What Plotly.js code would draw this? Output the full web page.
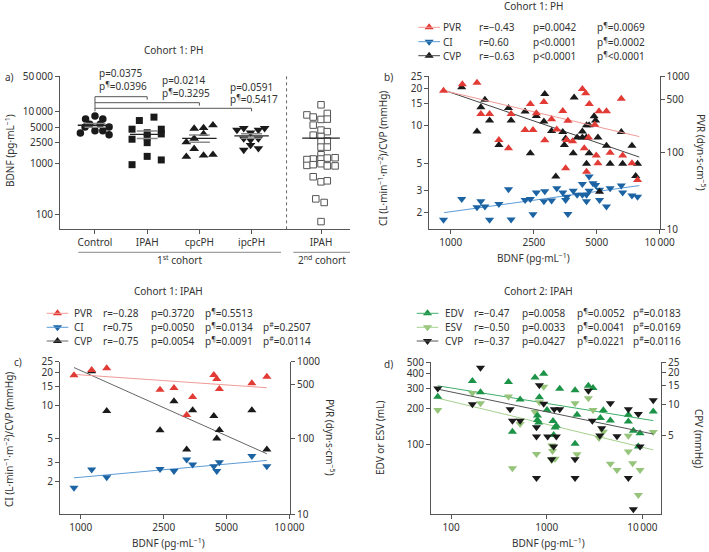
<!DOCTYPE html>
<html><head><meta charset="utf-8">
<script src="https://cdn.plot.ly/plotly-3.0.1.min.js"></script>
<style>html,body{margin:0;padding:0;background:#fff}#chart{width:709px;height:552px}</style>
</head><body><div id="chart"></div>
<script>
// ---------- Panel a data ----------
const aGroups = ['Control','IPAH','cpcPH','ipcPH','IPAH'];
const aGroupPos = [1,2,3,4,5.33];
const aControl = [8240,7200,7200,5750,5750,5030,5030,4260,4260,3840,3570];
const aControlJit = [0,-0.18,0.15,-0.1,0.1,-0.19,0.27,0,0.15,-0.28,0.27];
const aIPAH = [7870,6760,4580,4580,3700,2920,3900,3200,2500,1350,1150,930];
const aIPAHJit = [0.13,-0.15,-0.29,0.27,0.27,-0.29,0,0,0,0,0.27,-0.29];
const aCpc = [5480,4850,4710,3700,3000,2560,1900,1455,1410,1330];
const aCpcJit = [0.26,0.08,-0.1,0.08,-0.1,-0.25,-0.1,0.26,0.08,-0.25];
const aIpc = [4440,4790,3930,4440,4790,3000,2830,3000,1800,2250,1940];
const aIpcJit = [-0.28,-0.15,-0.02,0.13,0.25,-0.15,-0.02,0.13,-0.15,-0.02,0.13];
const aCohort2 = [13700,8700,7900,9300,7100,7200,5500,4400,4100,3500,3300,2700,2600,2050,2050,1450,1200,1170,1200,1250,1270,900,930,970,880,880,540,430,450,200,170,72];
const aCohort2Jit = [0,-0.27,-0.15,0.12,0,0.12,-0.15,0,0.12,-0.15,0,0.12,0,0,0.12,0,-0.15,-0.27,0,0.12,0.27,-0.27,-0.15,0,0.12,0.27,-0.15,0,0.12,-0.1,0.06,0];
const aPvals = [['p=0.0375','p<sup>¶</sup>=0.0396'],['p=0.0214','p<sup>¶</sup>=0.3295'],['p=0.0591','p<sup>¶</sup>=0.5417']];

// ---------- Panel b data (Cohort 1: PH) ----------
const bPVR_BDNF = [923,1136,1335,1393,1534,1700,1890,1945,2270,2405,2477,2570,2793,2820,3040,3220,3440,3550,3590,3640,3835,4270,4430,4610,4470,4360,4570,4900,4980,5070,5130,5570,5800,6560,6660,7380,7850];
const bPVR = [644,778,819,319,319,146,114,319,198,431,198,326,458,145,272,201,349,62.5,146,261,141,676,594,431,56.5,114,158,232,92,73,346,346,100,506,92,73,44];
const bCVP_BDNF = [923,1128,1335,1393,1457,1534,1700,1890,1945,2270,2405,2570,2793,2820,3040,3185,3440,3500,3550,3860,3900,4030,4270,4270,4460,4470,4600,4470,4600,4860,4940,5070,5160,5570,5800,6560,6660,7380,7690,7850];
const bCVP = [25.3,20.4,9.0,14.1,16.2,11.0,7.0,13.9,11.0,13.0,6.0,12.0,10.8,18.0,9.06,3.9,8.9,7.0,7.9,6.0,16.9,8.05,9.0,8.05,8.05,10.1,10.1,4.94,6.0,11.9,11.0,8.05,2.94,6.9,4.94,8.9,4.94,6.9,3.95,4.94];
const bCI_BDNF = [923,1128,1335,1393,1457,1534,1700,1890,1945,2270,2405,2477,2570,2793,2820,3040,3220,3440,3550,3590,3640,3860,4030,4270,4270,4470,4470,4600,4600,4800,4940,5160,5160,5570,5800,6560,6660,7380,7850];
const bCI = [1.75,2.58,2.21,2.47,2.24,1.75,2.35,3.08,1.76,2.53,2.58,1.94,2.9,2.47,2.97,2.5,3.14,2.9,2.53,2.69,1.95,3.0,2.78,3.4,2.78,2.47,2.78,3.9,3.0,3.45,3.34,3.05,2.53,2.24,3.14,3.3,2.9,2.75,2.69];
const bFitX = [929,8000];
const bFitPVR = [643,162];
const bFitCI = [2.0,3.3];
const bFitCVP = [19.3,5.6];
const bLegend = [
  ['PVR','r=−0.43','p=0.0042','p<sup>¶</sup>=0.0069'],
  ['CI','r=0.60','p&lt;0.0001','p<sup>¶</sup>=0.0002'],
  ['CVP','r=−0.63','p&lt;0.0001','p<sup>¶</sup>&lt;0.0001']
];

// ---------- Panel c data (Cohort 1: IPAH) ----------
const cBDNF = [929,1129,1333,2400,2800,3220,3440,4345,4490,4620,6610,7800];
const cPVR = [662,778,818,430,452,200,344,668,593,438,520,637];
const cCI = [1.75,2.58,2.19,2.61,2.49,3.18,2.86,2.76,2.49,3.01,3.42,2.76];
const cCVP = [25.2,20.5,8.87,5.89,10.9,3.94,9.0,7.98,4.97,5.93,9.0,3.94];
const cFitX = [929,7800];
const cFitPVR = [682,456];
const cFitCI = [2.16,3.12];
const cFitCVP = [22.2,3.59];
const cLegend = [
  ['PVR','r=−0.28','p=0.3720','p<sup>¶</sup>=0.5513',''],
  ['CI','r=0.75','p=0.0050','p<sup>¶</sup>=0.0134','p<sup>#</sup>=0.2507'],
  ['CVP','r=−0.75','p=0.0054','p<sup>¶</sup>=0.0091','p<sup>#</sup>=0.0114']
];

// ---------- Panel d data (Cohort 2: IPAH) ----------
const dEDV_BDNF = [72.6,167,203,398,438,527,755,838,930,800,800,825,1007,1164,1182,1222,1260,1367,1978,1978,2075,2727,3050,3640,3910,4630,7140,7140,8050,9460,9080,13000];
const dEDV = [254,347,277,339,128,241,371,252,399,176,161,153,196,158,120,139,144,297,101,289,178,316,302,167,195,159,178,156,130,124,95.5,190];
const dESV_BDNF = [72.6,167,203,398,438,527,755,782,838,930,1130,1150,1127,1222,1978,2075,2727,3050,3910,3520,4630,5430,7140,7140,7920,9080,9460,13000];
const dESV = [196,273,224,255,62.4,149,188,82.6,228,309,97.5,87.7,73.5,75,224,82.3,247,196,128,113,68,60.4,118,86.5,68.9,36.9,60.4,127];
const dCVP_BDNF = [72.6,167,203,414,438,527,782,782,782,838,930,1023,1127,1182,1200,1260,1367,1978,1978,2727,3000,3590,3760,4630,5430,7140,7140,8050,9080,9460,13000];
const dCVP = [14.1,10.0,22.2,8.97,6.97,6.97,6.03,4.92,1.99,15.1,10.1,4.92,2.99,3.95,8.97,4.92,8.97,2.99,1.99,13.4,6.97,5.03,5.89,10.2,4.95,8.97,1.99,1.0,8.05,3.95,10.9];
const dFitX = [72.6,13000];
const dFitEDV = [315,159];
const dFitESV = [247,89.5];
const dFitCVP = [13.9,5.2];
const dLegend = [
  ['EDV','r=−0.47','p=0.0058','p<sup>¶</sup>=0.0052','p<sup>#</sup>=0.0183'],
  ['ESV','r=−0.50','p=0.0033','p<sup>¶</sup>=0.0041','p<sup>#</sup>=0.0169'],
  ['CVP','r=−0.37','p=0.0427','p<sup>¶</sup>=0.0221','p<sup>#</sup>=0.0116']
];

// ---------- helpers ----------
const W = 709, H = 552;
const px = x => x / W;
const py = y => 1 - y / H;
const FONT = 'Noto Sans, sans-serif';
const TXT = '#333';
const RED = '#e23b36', RED_L = '#f29a96';
const BLUE = '#1b63a3', BLUE_L = '#5b9bd5';
const BLK = '#1a1a1a', BLK_L = '#444';
const GRN = '#1c9346', GRN_L = '#3fae6a';
const LGR = '#95c47a', LGR_L = '#a6d08e';

const traces = [];
const annotations = [];
const shapes = [];

function T(text, x, y, o) {
  return Object.assign({text, x: px(x), y: py(y), xref: 'paper', yref: 'paper', showarrow: false,
    xanchor: 'center', yanchor: 'middle', font: {family: FONT, size: 10, color: TXT}}, o || {});
}
function L(x0, y0, x1, y1, color, o) {
  return Object.assign({type: 'line', xref: 'paper', yref: 'paper', x0: px(x0), y0: py(y0), x1: px(x1), y1: py(y1),
    line: {color: color, width: 1}}, o || {});
}

// ---------- Panel a traces ----------
const aSets = [
  {v: aControl, j: aControlJit, sym: 'circle', size: 7.5, color: BLK},
  {v: aIPAH, j: aIPAHJit, sym: 'square', size: 7, color: BLK},
  {v: aCpc, j: aCpcJit, sym: 'triangle-up', size: 8.5, color: BLK},
  {v: aIpc, j: aIpcJit, sym: 'triangle-down', size: 8.5, color: BLK},
  {v: aCohort2, j: aCohort2Jit, sym: 'square', size: 6.5, color: '#fff', lc: '#555'}
];
aSets.forEach((s, g) => {
  traces.push({type: 'scatter', mode: 'markers', xaxis: 'x', yaxis: 'y', cliponaxis: false,
    x: s.v.map((v, i) => aGroupPos[g] + s.j[i]), y: s.v,
    marker: {symbol: s.sym, size: s.size, color: s.color, line: {color: s.lc || s.color, width: s.lc ? 1 : 0}},
    hoverinfo: 'y', showlegend: false});
});
const meanX = [], meanY = [], semX = [], semY = [];
aSets.forEach((s, g) => {
  const n = s.v.length;
  const m = s.v.reduce((a, b) => a + b, 0) / n;
  const sd = Math.sqrt(s.v.reduce((a, b) => a + (b - m) * (b - m), 0) / (n - 1));
  const se = sd / Math.sqrt(n);
  const hw = g === 4 ? 0.36 : 0.33;
  meanX.push(aGroupPos[g] - hw, aGroupPos[g] + hw, null);
  meanY.push(m, m, null);
  if (g < 4) {
    [m + se, m - se].forEach(v => { semX.push(aGroupPos[g] - 0.2, aGroupPos[g] + 0.2, null); semY.push(v, v, null); });
  }
});
traces.push({type: 'scatter', mode: 'lines', xaxis: 'x', yaxis: 'y', x: semX, y: semY,
  line: {color: '#8a8a8a', width: 1.5}, hoverinfo: 'skip', showlegend: false, connectgaps: false});
traces.push({type: 'scatter', mode: 'lines', xaxis: 'x', yaxis: 'y', x: meanX, y: meanY,
  line: {color: '#222', width: 1.3}, hoverinfo: 'skip', showlegend: false, connectgaps: false});

// brackets panel a
const brY = [96.7, 102.7, 108.3];
brY.forEach((yy, k) => {
  const to = aGroupPos[k + 1];
  shapes.push({type: 'line', xref: 'x', yref: 'paper', x0: aGroupPos[0], x1: to, y0: py(yy), y1: py(yy), line: {color: '#555', width: 1}});
  shapes.push({type: 'line', xref: 'x', yref: 'paper', x0: to, x1: to, y0: py(yy), y1: py(yy + 3), line: {color: '#555', width: 1}});
});
shapes.push({type: 'line', xref: 'x', yref: 'paper', x0: aGroupPos[0], x1: aGroupPos[0], y0: py(96.7), y1: py(111.3), line: {color: '#555', width: 1}});
const pvPos = [[96.5, 72.7, 86], [160, 80, 92.7], [228.3, 86.7, 99.3]];
aPvals.forEach((pv, k) => {
  annotations.push(T(pv[0], pvPos[k][0], pvPos[k][1], {xanchor: 'left'}));
  annotations.push(T(pv[1], pvPos[k][0], pvPos[k][2], {xanchor: 'left'}));
});
// dotted separator
shapes.push({type: 'line', xref: 'x', yref: 'paper', x0: 4.67, x1: 4.67, y0: py(229.3), y1: py(76), line: {color: '#666', width: 1, dash: 'dot'}});
// cohort underlines
shapes.push(L(78.3, 252.3, 281, 252.3, '#888'));
shapes.push(L(293.3, 252.3, 350, 252.3, '#888'));
annotations.push(T('1<sup>st</sup> cohort', 179.3, 260));
annotations.push(T('2<sup>nd</sup> cohort', 321.5, 260));
annotations.push(T('Cohort 1: PH', 173, 50));
annotations.push(T('a)', 9, 77));
annotations.push(T('BDNF (pg·mL<sup>−1</sup>)', 10, 151, {textangle: -90}));

// ---------- scatter helper ----------
function pts(x, y, xa, ya, sym, color) {
  traces.push({type: 'scatter', mode: 'markers', xaxis: xa, yaxis: ya, x: x, y: y, cliponaxis: false,
    marker: {symbol: sym, size: 8, color: color, line: {width: 0}}, showlegend: false, hoverinfo: 'x+y'});
}
function fit(x, y, xa, ya, color) {
  traces.push({type: 'scatter', mode: 'lines', xaxis: xa, yaxis: ya, x: x, y: y, cliponaxis: false,
    line: {color: color, width: 1}, showlegend: false, hoverinfo: 'skip'});
}

// ---------- Panel b ----------
fit(bFitX, bFitCI, 'x2', 'y2', BLUE_L);
fit(bFitX, bFitCVP, 'x2', 'y2', BLK_L);
pts(bCI_BDNF, bCI, 'x2', 'y2', 'triangle-down', BLUE);
pts(bCVP_BDNF, bCVP, 'x2', 'y2', 'triangle-up', BLK);
fit(bFitX, bFitPVR, 'x2', 'y3', RED_L);
pts(bPVR_BDNF, bPVR, 'x2', 'y3', 'triangle-up', RED);

// ---------- Panel c ----------
fit(cFitX, cFitCI, 'x3', 'y4', BLUE_L);
fit(cFitX, cFitCVP, 'x3', 'y4', '#666');
pts(cBDNF, cCI, 'x3', 'y4', 'triangle-down', BLUE);
pts(cBDNF, cCVP, 'x3', 'y4', 'triangle-up', BLK);
fit(cFitX, cFitPVR, 'x3', 'y5', RED_L);
pts(cBDNF, cPVR, 'x3', 'y5', 'triangle-up', RED);

// ---------- Panel d ----------
fit(dFitX, dFitEDV, 'x4', 'y6', GRN_L);
fit(dFitX, dFitESV, 'x4', 'y6', LGR_L);
pts(dESV_BDNF, dESV, 'x4', 'y6', 'triangle-down', LGR);
pts(dEDV_BDNF, dEDV, 'x4', 'y6', 'triangle-up', GRN);
fit(dFitX, dFitCVP, 'x4', 'y7', '#555');
pts(dCVP_BDNF, dCVP, 'x4', 'y7', 'triangle-down', BLK);

// ---------- legends ----------
function legend(rows, rowY, lineX, textX, syms, mColors, lColors) {
  rows.forEach((r, i) => {
    const y = rowY[i];
    shapes.push(L(lineX[0], y, lineX[1], y, lColors[i]));
    traces.push({type: 'scatter', mode: 'markers', xaxis: 'x5', yaxis: 'y8', x: [(lineX[0] + lineX[1]) / 2], y: [y], cliponaxis: false,
      marker: {symbol: syms[i], size: 8, color: mColors[i]}, showlegend: false, hoverinfo: 'skip'});
    r.forEach((t, k) => { if (t) annotations.push(T(t, textX[k], y, {xanchor: 'left'})); });
  });
}
legend(bLegend, [27.3, 41.7, 55.7], [418.3, 440], [441, 477.5, 530.5, 594.5],
  ['triangle-up', 'triangle-down', 'triangle-up'], [RED, BLUE, BLK], [RED_L, BLUE_L, BLK_L]);
legend(cLegend, [313.3, 327.3, 341], [46.7, 68.3], [72, 100.5, 148.8, 202.8, 261],
  ['triangle-up', 'triangle-down', 'triangle-up'], [RED, BLUE, BLK], [RED_L, BLUE_L, '#666']);
legend(dLegend, [313.3, 327.3, 341], [416.7, 438.3], [443, 472, 519.5, 574.5, 631],
  ['triangle-up', 'triangle-down', 'triangle-down'], [GRN, LGR, BLK], [GRN_L, LGR_L, '#555']);

// ---------- titles / labels ----------
const ciTitle = 'CI (L·min<sup>−1</sup>·m<sup>−2</sup>)/CVP (mmHg)';
const pvrTitle = 'PVR (dyn·s·cm<sup>−5</sup>)';
const bdnfTitle = 'BDNF (pg·mL<sup>−1</sup>)';
annotations.push(T('Cohort 1: PH', 533, 6));
annotations.push(T('b)', 388, 77));
annotations.push(T(ciTitle, 383, 159, {textangle: -90}));
annotations.push(T(pvrTitle, 701, 152, {textangle: 90}));
annotations.push(T(bdnfTitle, 533, 258));

annotations.push(T('Cohort 1: IPAH', 168, 291));
annotations.push(T('c)', 18, 362));
annotations.push(T(ciTitle, 9, 440, {textangle: -90}));
annotations.push(T(pvrTitle, 330, 437, {textangle: 90}));
annotations.push(T(bdnfTitle, 168, 543));

annotations.push(T('Cohort 2: IPAH', 538, 291));
annotations.push(T('d)', 388, 364));
annotations.push(T('EDV or ESV (mL)', 380, 438, {textangle: -90}));
annotations.push(T('CPV (mmHg)', 699, 438, {textangle: 90}));
annotations.push(T(bdnfTitle, 548, 543));

// ---------- axes ----------
const ax = {showline: true, linecolor: '#555', linewidth: 1, ticks: 'outside', ticklen: 4, tickcolor: '#555', tickwidth: 1,
  showgrid: false, zeroline: false, fixedrange: true, tickfont: {family: FONT, size: 10, color: TXT}};
const TS = '\u2009';
const yTopAB = py(76), yBotAB = py(229.3), yTopCD = py(361.7), yBotCD = py(514.3);
const bdnfTicks = [1000, 2500, 5000, 10000];
const bdnfText = ['1000', '2500', '5000', '10' + TS + '000'];

const layout = {
  width: W, height: H, margin: {l: 0, r: 0, t: 0, b: 0}, paper_bgcolor: '#fff', plot_bgcolor: 'rgba(0,0,0,0)',
  showlegend: false, font: {family: FONT, size: 10, color: TXT},
  xaxis: Object.assign({}, ax, {domain: [px(60), px(350)], range: [0.33, 5.885], tickvals: aGroupPos, ticktext: aGroups, anchor: 'y'}),
  yaxis: Object.assign({}, ax, {domain: [yBotAB, yTopAB], type: 'log', range: [1.707, 4.699], anchor: 'x',
    tickvals: [100, 1000, 2500, 5000, 10000, 50000], ticktext: ['100', '1000', '2500', '5000', '10' + TS + '000', '50' + TS + '000']}),

  xaxis2: Object.assign({}, ax, {domain: [px(429.3), px(659.5)], type: 'log', range: [2.897, 4.0], anchor: 'y2', tickvals: bdnfTicks, ticktext: bdnfText}),
  yaxis2: Object.assign({}, ax, {domain: [yBotAB, yTopAB], type: 'log', range: [0.167, 1.40], anchor: 'x2',
    tickvals: [2, 3, 5, 10, 15, 20, 25], ticktext: ['2', '3', '5', '10', '15', '20', '25']}),
  yaxis3: Object.assign({}, ax, {domain: [yBotAB, yTopAB], type: 'log', range: [1, 3], anchor: 'x2', overlaying: 'y2', side: 'right',
    tickvals: [10, 100, 500, 1000], ticktext: ['10', '100', '500', '1000']}),

  xaxis3: Object.assign({}, ax, {domain: [px(60), px(290)], type: 'log', range: [2.901, 4.003], anchor: 'y4', tickvals: bdnfTicks, ticktext: bdnfText}),
  yaxis4: Object.assign({}, ax, {domain: [yBotCD, yTopCD], type: 'log', range: [0, 1.40], anchor: 'x3',
    tickvals: [2, 3, 5, 10, 15, 20, 25], ticktext: ['2', '3', '5', '10', '15', '20', '25']}),
  yaxis5: Object.assign({}, ax, {domain: [yBotCD, yTopCD], type: 'log', range: [1, 3], anchor: 'x3', overlaying: 'y4', side: 'right',
    tickvals: [10, 100, 500, 1000], ticktext: ['10', '100', '500', '1000']}),

  xaxis4: Object.assign({}, ax, {domain: [px(431), px(661)], type: 'log', range: [1.79, 4.195], anchor: 'y6',
    tickvals: [100, 1000, 10000], ticktext: ['100', '1000', '10' + TS + '000']}),
  yaxis6: Object.assign({}, ax, {domain: [yBotCD, yTopCD], type: 'log', range: [1.402, 2.704], anchor: 'x4',
    tickvals: [100, 200, 300, 400, 500], ticktext: ['100', '200', '300', '400', '500']}),
  yaxis7: Object.assign({}, ax, {domain: [yBotCD, yTopCD], type: 'log', range: [-0.047, 1.404], anchor: 'x4', overlaying: 'y6', side: 'right',
    tickvals: [5, 10, 15, 20, 25], ticktext: ['5', '10', '15', '20', '25']}),

  xaxis5: {domain: [0, 1], range: [0, W], visible: false, fixedrange: true, anchor: 'y8'},
  yaxis8: {domain: [0, 1], range: [H, 0], visible: false, fixedrange: true, anchor: 'x5'},

  annotations: annotations, shapes: shapes
};

Plotly.newPlot('chart', traces, layout, {displayModeBar: false, staticPlot: true});
</script></body></html>
